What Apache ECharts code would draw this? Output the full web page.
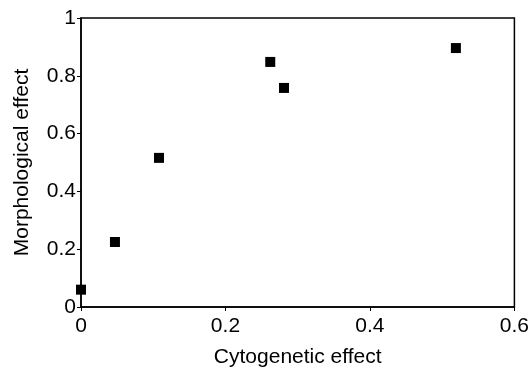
<!DOCTYPE html>
<html>
<head>
<meta charset="utf-8">
<script src="https://cdn.jsdelivr.net/npm/echarts@6/dist/echarts.min.js"></script>
<style>
  html, body { margin: 0; padding: 0; background: #fff; }
  #chart { width: 532px; height: 374px; }
</style>
</head>
<body>
<div id="chart"></div>
<script>
// ─── Data ────────────────────────────────────────
const cytogenetic = [0, 0.047, 0.108, 0.262, 0.281, 0.519];
const morphological = [0.06, 0.225, 0.516, 0.848, 0.758, 0.896];

const points = cytogenetic.map((x, i) => [x, morphological[i]]);

const chart = echarts.init(document.getElementById('chart'), null, { renderer: 'canvas' });

const axisFont = { fontFamily: 'Liberation Sans, Arial, sans-serif', fontSize: 21, color: '#000' };

chart.setOption({
  animation: false,
  grid: {
    left: 81, right: 15, top: 18, bottom: 67,
    show: true, borderColor: '#000', borderWidth: 1.5, backgroundColor: 'transparent'
  },
  xAxis: {
    type: 'value', min: 0, max: 0.6, interval: 0.2,
    name: 'Cytogenetic effect', nameLocation: 'middle', nameGap: 40,
    nameTextStyle: axisFont,
    axisLine: { show: true, lineStyle: { color: '#000', width: 1.5 } },
    axisTick: { show: true, length: 4, lineStyle: { color: '#000' } },
    axisLabel: Object.assign({ margin: 9 }, axisFont),
    splitLine: { show: false }
  },
  yAxis: {
    type: 'value', min: 0, max: 1, interval: 0.2,
    name: 'Morphological effect', nameLocation: 'middle', nameGap: 48,
    nameTextStyle: axisFont,
    axisLine: { show: true, lineStyle: { color: '#000', width: 1.5 } },
    axisTick: { show: true, length: 4, lineStyle: { color: '#000' } },
    axisLabel: Object.assign({ margin: 5, padding: [0, 0, 6, 0] }, axisFont),
    splitLine: { show: false }
  },
  series: [{
    type: 'scatter',
    symbol: 'rect',
    symbolSize: 10,
    itemStyle: { color: '#000', opacity: 1 },
    data: points
  }]
});
</script>
</body>
</html>
